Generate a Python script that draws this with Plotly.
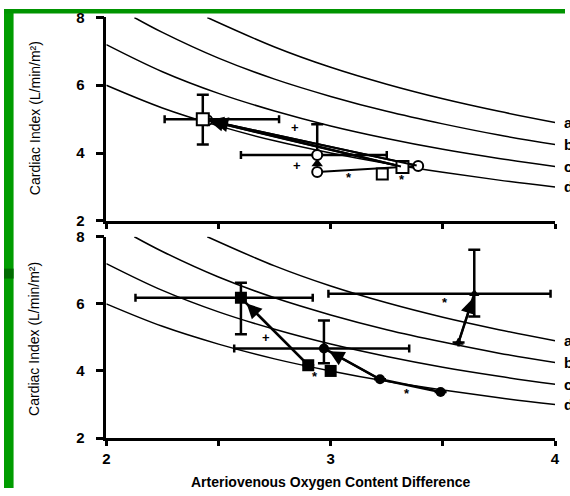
import plotly.graph_objects as go

# ---------------- data ----------------
# iso-VO2 reference curves
curve_a_x = [2.45, 2.75, 3.0, 3.25, 3.5, 3.75, 4.0]
curve_a_y = [8.0, 7.13, 6.53, 6.03, 5.6, 5.23, 4.9]
curve_b_x = [2.125, 2.25, 2.5, 2.75, 3.0, 3.25, 3.5, 3.75, 4.0]
curve_b_y = [8.0, 7.56, 6.8, 6.18, 5.67, 5.23, 4.86, 4.53, 4.25]
curve_c_x = [2.0, 2.25, 2.5, 2.75, 3.0, 3.25, 3.5, 3.75, 4.0]
curve_c_y = [7.2, 6.4, 5.76, 5.24, 4.8, 4.43, 4.11, 3.84, 3.6]
curve_d_x = [2.0, 2.25, 2.5, 2.75, 3.0, 3.25, 3.5, 3.75, 4.0]
curve_d_y = [6.0, 5.33, 4.8, 4.36, 4.0, 3.69, 3.43, 3.2, 3.0]
curve_labels = ["a", "b", "c", "d"]
curve_label_y = [4.9, 4.25, 3.6, 3.0]

# top panel
top_sq_x = [3.32, 2.43]
top_sq_y = [3.59, 5.00]
top_sq2_x = [3.23]
top_sq2_y = [3.38]
top_ci_x = [2.94, 3.39, 2.45]
top_ci_y = [3.44, 3.62, 4.97]
top_tri_x = [2.94]
top_tri_y = [3.68]
top_eci_x = [2.94]
top_eci_y = [3.94]
top_sq_err_yp, top_sq_err_ym = [0, 0.72], [0, 0.75]
top_sq_err_xp, top_sq_err_xm = [0, 0.34], [0, 0.17]
top_eci_err_yp, top_eci_err_ym = [0.91], [0.0]
top_eci_err_xp, top_eci_err_xm = [0.31], [0.34]
top_plus_x, top_plus_y = [2.84, 2.85], [4.74, 3.62]
top_star_x, top_star_y = [3.08, 3.32], [3.29, 3.21]

# bottom panel
bot_sq_x = [2.90, 2.60]
bot_sq_y = [4.17, 6.18]
bot_sq2_x = [3.00]
bot_sq2_y = [4.00]
bot_ci_x = [3.49, 3.22, 2.97]
bot_ci_y = [3.37, 3.75, 4.67]
bot_tri_x = [3.57, 3.64]
bot_tri_y = [4.85, 6.30]
bot_sq_err_yp, bot_sq_err_ym = [0, 0.45], [0, 1.09]
bot_sq_err_xp, bot_sq_err_xm = [0, 0.32], [0, 0.47]
bot_ci_err_yp, bot_ci_err_ym = [0, 0, 0.83], [0, 0, 0.44]
bot_ci_err_xp, bot_ci_err_xm = [0, 0, 0.38], [0, 0, 0.40]
bot_tri_err_yp, bot_tri_err_ym = [0, 1.31], [0, 0.68]
bot_tri_err_xp, bot_tri_err_xm = [0, 0.34], [0, 0.65]
bot_plus_x, bot_plus_y = [2.71], [5.00]
bot_star_x, bot_star_y = [2.93, 3.34, 3.51], [3.84, 3.34, 6.04]

x_tickvals = [2, 2.5, 3, 3.5, 4]
x_ticktext = ["2", "", "3", "", "4"]
y_tickvals = [2, 4, 6, 8]

# ---------------- figure ----------------
W, H = 570, 496
fig = go.Figure()
BLACK = "black"
FONT = "Liberation Sans, Arial, sans-serif"


def px_x(p):
    # target picture pixel -> paper fraction
    return ((p - 1.4) / 0.987) / W


def px_y(p):
    return (H - (p - 7.5) / 0.969) / H


def err(arr_p, arr_m, width):
    return dict(type="data", array=arr_p, arrayminus=arr_m, symmetric=False,
                color=BLACK, thickness=2.5, width=width)


for xa, ya in [("x", "y"), ("x2", "y2")]:
    for cx, cy in [(curve_a_x, curve_a_y), (curve_b_x, curve_b_y),
                   (curve_c_x, curve_c_y), (curve_d_x, curve_d_y)]:
        fig.add_trace(go.Scatter(x=cx, y=cy, mode="lines", xaxis=xa, yaxis=ya,
                                 line=dict(color=BLACK, width=1.5, shape="spline"),
                                 hoverinfo="skip", showlegend=False))

# top panel series
fig.add_trace(go.Scatter(x=top_ci_x, y=top_ci_y, mode="lines+markers", xaxis="x", yaxis="y",
                         line=dict(color=BLACK, width=2),
                         marker=dict(symbol="circle", size=10, color="white",
                                     line=dict(color=BLACK, width=2)), showlegend=False))
fig.add_trace(go.Scatter(x=top_tri_x, y=top_tri_y, mode="markers", xaxis="x", yaxis="y",
                         marker=dict(symbol="triangle-up", size=10, color=BLACK), showlegend=False))
fig.add_trace(go.Scatter(x=top_eci_x, y=top_eci_y, mode="markers", xaxis="x", yaxis="y",
                         error_y=err(top_eci_err_yp, top_eci_err_ym, 6),
                         error_x=err(top_eci_err_xp, top_eci_err_xm, 4),
                         marker=dict(symbol="circle", size=10, color="white",
                                     line=dict(color=BLACK, width=2)), showlegend=False))
fig.add_trace(go.Scatter(x=top_sq2_x, y=top_sq2_y, mode="markers", xaxis="x", yaxis="y",
                         marker=dict(symbol="square", size=11, color="white",
                                     line=dict(color=BLACK, width=2)), showlegend=False))
fig.add_trace(go.Scatter(x=top_sq_x, y=top_sq_y, mode="lines+markers", xaxis="x", yaxis="y",
                         line=dict(color=BLACK, width=2.5),
                         error_y=err(top_sq_err_yp, top_sq_err_ym, 6),
                         error_x=err(top_sq_err_xp, top_sq_err_xm, 4),
                         marker=dict(symbol="square", size=12, color="white",
                                     line=dict(color=BLACK, width=2)), showlegend=False))

# bottom panel series
fig.add_trace(go.Scatter(x=bot_sq2_x, y=bot_sq2_y, mode="markers", xaxis="x2", yaxis="y2",
                         marker=dict(symbol="square", size=12, color=BLACK), showlegend=False))
fig.add_trace(go.Scatter(x=bot_sq_x, y=bot_sq_y, mode="lines+markers", xaxis="x2", yaxis="y2",
                         line=dict(color=BLACK, width=2.5),
                         error_y=err(bot_sq_err_yp, bot_sq_err_ym, 6),
                         error_x=err(bot_sq_err_xp, bot_sq_err_xm, 4),
                         marker=dict(symbol="square", size=12, color=BLACK), showlegend=False))
fig.add_trace(go.Scatter(x=bot_ci_x, y=bot_ci_y, mode="lines+markers", xaxis="x2", yaxis="y2",
                         line=dict(color=BLACK, width=2.5),
                         error_y=err(bot_ci_err_yp, bot_ci_err_ym, 6),
                         error_x=err(bot_ci_err_xp, bot_ci_err_xm, 4),
                         marker=dict(symbol="circle", size=10, color=BLACK), showlegend=False))
fig.add_trace(go.Scatter(x=bot_tri_x, y=bot_tri_y, mode="lines+markers", xaxis="x2", yaxis="y2",
                         line=dict(color=BLACK, width=2.5),
                         error_y=err(bot_tri_err_yp, bot_tri_err_ym, 6),
                         error_x=err(bot_tri_err_xp, bot_tri_err_xm, 4),
                         marker=dict(symbol="triangle-up", size=9, color=BLACK), showlegend=False))

annotations = []


def arrow(xs, ys, xr, yr, standoff):
    annotations.append(dict(x=xs[-1], y=ys[-1], ax=xs[-2], ay=ys[-2], xref=xr, yref=yr,
                            axref=xr, ayref=yr, showarrow=True, arrowhead=2, arrowsize=1.5,
                            arrowwidth=2, arrowcolor=BLACK, standoff=standoff, text=""))


arrow(top_sq_x, top_sq_y, "x", "y", 6)
arrow(top_ci_x, top_ci_y, "x", "y", 6)
arrow(bot_sq_x, bot_sq_y, "x2", "y2", 8)
arrow(bot_ci_x, bot_ci_y, "x2", "y2", 6)
arrow(bot_tri_x, bot_tri_y, "x2", "y2", 5)

for xs, ys, t, xr, yr in [(top_plus_x, top_plus_y, "+", "x", "y"),
                          (top_star_x, top_star_y, "*", "x", "y"),
                          (bot_plus_x, bot_plus_y, "+", "x2", "y2"),
                          (bot_star_x, bot_star_y, "*", "x2", "y2")]:
    for xv, yv in zip(xs, ys):
        annotations.append(dict(x=xv, y=yv, xref=xr, yref=yr, text=t, showarrow=False,
                                font=dict(family=FONT, size=13, color=BLACK, weight="bold")))

for yr in ["y", "y2"]:
    for lab, yv in zip(curve_labels, curve_label_y):
        annotations.append(dict(x=px_x(561), y=yv, xref="paper", yref=yr, text=lab,
                                showarrow=False, xanchor="left", yanchor="middle",
                                font=dict(family=FONT, size=15, color=BLACK, weight="bold")))

for cy in [117.5, 339]:
    annotations.append(dict(x=px_x(32), y=px_y(cy), xref="paper", yref="paper",
                            text="Cardiac Index (L/min/m²)", textangle=-90, showarrow=False,
                            xanchor="center", yanchor="middle",
                            font=dict(family=FONT, size=14, color=BLACK)))
annotations.append(dict(x=px_x(329), y=px_y(482), xref="paper", yref="paper",
                        text="Arteriovenous Oxygen Content Difference", showarrow=False,
                        xanchor="center", yanchor="middle",
                        font=dict(family=FONT, size=14, color=BLACK, weight="bold")))

shapes = [
    dict(type="rect", xref="paper", yref="paper", x0=0, x1=px_x(11), y0=0, y1=1,
         fillcolor="#009c00", line=dict(width=0), layer="below"),
    dict(type="rect", xref="paper", yref="paper", x0=0, x1=1, y0=px_y(12), y1=1,
         fillcolor="#009400", line=dict(width=0), layer="below"),
    dict(type="rect", xref="paper", yref="paper", x0=0, x1=px_x(11), y0=px_y(278), y1=px_y(268),
         fillcolor="#006a00", line=dict(width=0), layer="below"),
]

xdom = [px_x(104), px_x(554)]
axis_common = dict(showline=True, linecolor=BLACK, linewidth=2.5, ticks="outside",
                   tickcolor=BLACK, tickwidth=2.5, showgrid=False, zeroline=False,
                   tickfont=dict(family=FONT, size=15, color=BLACK, weight="bold"))

fig.update_layout(
    width=W, height=H,
    margin=dict(l=0, r=0, t=0, b=0),
    paper_bgcolor="white", plot_bgcolor="white",
    showlegend=False,
    xaxis=dict(domain=xdom, range=[2, 4], anchor="y", tickvals=x_tickvals,
               showticklabels=False, ticklen=5, **axis_common),
    yaxis=dict(domain=[px_y(220), px_y(16)], range=[2, 8], anchor="x", tickvals=y_tickvals,
               ticklen=8, ticklabelstandoff=8, **axis_common),
    xaxis2=dict(domain=xdom, range=[2, 4], anchor="y2", tickvals=x_tickvals,
                ticktext=x_ticktext, ticklen=5, **axis_common),
    yaxis2=dict(domain=[px_y(438), px_y(236)], range=[2, 8], anchor="x2", tickvals=y_tickvals,
                ticklen=8, ticklabelstandoff=8, **axis_common),
    annotations=annotations,
    shapes=shapes,
)

fig.write_html(
    "out.html",
    config={"displayModeBar": False},
    post_script=("var d=document.getElementById('{plot_id}');"
                 "d.style.position='fixed';d.style.left='0px';d.style.top='0px';"
                 "document.documentElement.style.overflow='hidden';"
                 "document.body.style.margin='0';document.body.style.overflow='hidden';"
                 "window.scrollTo(0,0);"),
)
